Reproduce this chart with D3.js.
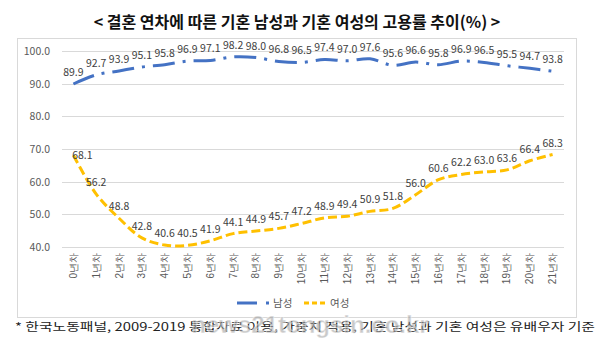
<!DOCTYPE html>
<html><head><meta charset="utf-8">
<script src="https://cdn.jsdelivr.net/npm/d3@7"></script>
<style>
html,body{margin:0;padding:0;background:#fff;}
svg{display:block;font-family:"Noto Sans CJK KR","Noto Sans",sans-serif;}
</style></head>
<body><svg id="c" width="600" height="342"></svg>
<script>
const categories = ["0년차","1년차","2년차","3년차","4년차","5년차","6년차","7년차","8년차","9년차","10년차","11년차","12년차","13년차","14년차","15년차","16년차","17년차","18년차","19년차","20년차","21년차"];
const maleValues = [89.9,92.7,93.9,95.1,95.8,96.9,97.1,98.2,98.0,96.8,96.5,97.4,97.0,97.6,95.6,96.6,95.8,96.9,96.5,95.5,94.7,93.8];
const femaleValues = [68.1,56.2,48.8,42.8,40.6,40.5,41.9,44.1,44.9,45.7,47.2,48.9,49.4,50.9,51.8,56.0,60.6,62.2,63.0,63.6,66.4,68.3];
const yTicks = [40,50,60,70,80,90,100];
const seriesNames = ["남성","여성"];
const titleText = "< 결혼 연차에 따른 기혼 남성과 기혼 여성의 고용률 추이(%) >";
const noteText = "* 한국노동패널, 2009-2019 통합자료 이용, 가중치 적용, 기혼 남성과 기혼 여성은 유배우자 기준";
const watermark = "news21tongsin.co.kr";

const svg = d3.select("#c");
const blue = "#4472C4", yellow = "#FFC000";

// title
svg.append("text").attr("x", 297).attr("y", 28).attr("text-anchor","middle")
  .attr("font-size", 16).attr("font-weight", 700).attr("fill","#111").text(titleText);

// chart box
svg.append("rect").attr("x", 17.5).attr("y", 38.5).attr("width", 559).attr("height", 279)
  .attr("fill","#fff").attr("stroke","#d9d9d9");

const x = d3.scalePoint().domain(categories).range([62, 564]).padding(0.5);
const y = d3.scaleLinear().domain([40, 100]).range([247, 51]);

// grid
svg.append("g").selectAll("line").data(yTicks).join("line")
  .attr("x1", 62).attr("x2", 564).attr("y1", d => Math.round(y(d))+0.5).attr("y2", d => Math.round(y(d))+0.5)
  .attr("stroke", "#d9d9d9");

// y axis labels
const yAxis = d3.axisLeft(y).tickValues(yTicks).tickFormat(d3.format(".1f")).tickSize(0).tickPadding(0);
const yg = svg.append("g").attr("transform","translate(50,0)").call(yAxis);
yg.select(".domain").remove();
yg.selectAll("text").attr("font-size", 10.5).attr("fill","#595959").attr("font-family","Noto Sans CJK KR");

// x axis labels
const xAxis = d3.axisBottom(x).tickSize(0).tickPadding(0);
const xg = svg.append("g").attr("transform","translate(0,253)").call(xAxis);
xg.select(".domain").remove();
xg.selectAll("text").attr("font-size", 10).attr("fill","#595959")
  .attr("transform","rotate(-90)").attr("text-anchor","end").attr("dx", 0).attr("dy", "0.35em")
  .attr("x", 0).attr("y", 0);
xg.selectAll(".tick").attr("transform", d => `translate(${x(d)},${253-253}) `);
xg.attr("transform","translate(0,0)");
xg.selectAll(".tick text").attr("transform", "rotate(-90)").attr("x", -253 - 0).attr("y", 0)
  .attr("text-anchor","end");

const line = d3.line().x((d,i) => x(categories[i])).y(d => y(d)).curve(d3.curveCatmullRom.alpha(0.5));

svg.append("path").attr("d", line(maleValues)).attr("fill","none").attr("stroke", blue)
  .attr("stroke-width", 3).attr("stroke-dasharray","22,8,3,8");
svg.append("path").attr("d", line(femaleValues)).attr("fill","none").attr("stroke", yellow)
  .attr("stroke-width", 3).attr("stroke-dasharray","9,4");

// data labels
const fmt = d3.format(".1f");
svg.append("g").selectAll("text").data(maleValues).join("text")
  .attr("x", (d,i) => x(categories[i])).attr("y", d => y(d) - 8)
  .attr("text-anchor","middle").attr("font-size", 10.5).attr("fill","#404040").text(fmt);
svg.append("g").selectAll("text").data(femaleValues).join("text")
  .attr("x", (d,i) => x(categories[i]) + (i===0 ? 9 : 0)).attr("y", (d,i) => i===0 ? y(d) + 4 : y(d) - 8)
  .attr("text-anchor","middle").attr("font-size", 10.5).attr("fill","#404040").text(fmt);

// legend
const lg = svg.append("g").attr("transform","translate(0,303)");
lg.append("line").attr("x1",237).attr("x2",270).attr("y1",0).attr("y2",0)
  .attr("stroke",blue).attr("stroke-width",3).attr("stroke-dasharray","20,9,3,9");
lg.append("text").attr("x",273).attr("y",4).attr("font-size",10.5).attr("fill","#595959").text(seriesNames[0]);
lg.append("line").attr("x1",304).attr("x2",325).attr("y1",0).attr("y2",0)
  .attr("stroke",yellow).attr("stroke-width",3).attr("stroke-dasharray","5,3");
lg.append("text").attr("x",330).attr("y",4).attr("font-size",10.5).attr("fill","#595959").text(seriesNames[1]);

// footnote
svg.append("text").attr("x", 15).attr("y", 331).attr("font-size", 11.5).attr("fill","#222")
  .attr("textLength", 580).attr("lengthAdjust","spacingAndGlyphs").text(noteText);

// watermark
svg.append("text").attr("x", 310).attr("y", 333).attr("text-anchor","middle")
  .attr("font-size", 24).attr("font-weight", 700).attr("fill","#9a9a9a").attr("fill-opacity",0.55)
  .attr("stroke","#fff").attr("stroke-opacity",0.5).attr("stroke-width",1)
  .attr("font-family","Liberation Sans, sans-serif").text(watermark);
</script></body></html>
